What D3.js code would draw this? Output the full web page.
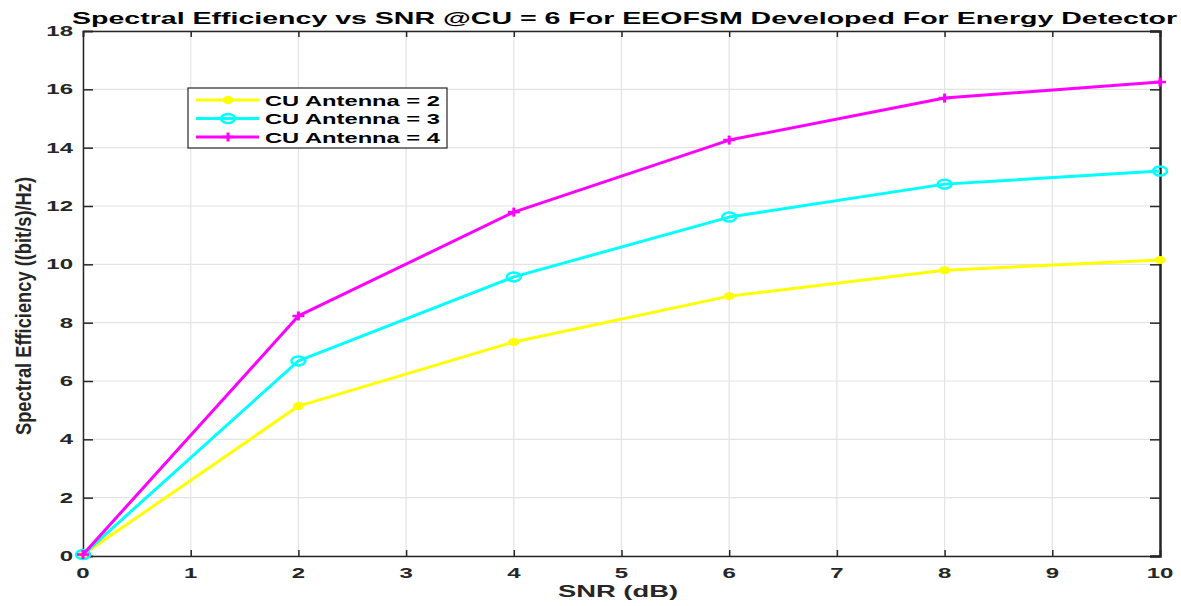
<!DOCTYPE html>
<html>
<head>
<meta charset="utf-8">
<script src="https://cdn.jsdelivr.net/npm/d3@7"></script>
<style>
  body { margin: 0; background: #fff; }
  text { font-family: "Liberation Sans", Arial, sans-serif; font-weight: bold; fill: #262626; }
</style>
</head>
<body>
<div id="chart"></div>
<script>
// data
const snr = [0, 2, 4, 6, 8, 10];
const antenna2 = [0.05, 5.14, 7.34, 8.91, 9.80, 10.15];
const antenna3 = [0.05, 6.69, 9.57, 11.62, 12.75, 13.20];
const antenna4 = [0.05, 8.23, 11.79, 14.26, 15.70, 16.25];
const seriesNames = ["CU Antenna = 2", "CU Antenna = 3", "CU Antenna = 4"];
const xTicks = [0, 1, 2, 3, 4, 5, 6, 7, 8, 9, 10];
const yTicks = [0, 2, 4, 6, 8, 10, 12, 14, 16, 18];

const width = 1181, height = 606;
const margin = {top: 31, right: 21, bottom: 50, left: 83};
const stretch = 1.6; // the picture is stretched horizontally

const series = [
  {name: seriesNames[0], values: antenna2, color: "#ffff00", marker: "dot"},
  {name: seriesNames[1], values: antenna3, color: "#00ffff", marker: "circle"},
  {name: seriesNames[2], values: antenna4, color: "#ff00ff", marker: "plus"}
];

const svg = d3.select("#chart").append("svg")
    .attr("width", width)
    .attr("height", height);

const x = d3.scaleLinear().domain([0, 10]).range([margin.left, width - margin.right]);
const y = d3.scaleLinear().domain([0, 18]).range([height - margin.bottom, margin.top]);

// grid
svg.append("g").selectAll("line").data(xTicks).join("line")
    .attr("x1", d => x(d)).attr("x2", d => x(d))
    .attr("y1", y(0)).attr("y2", y(18))
    .attr("stroke", "#e3e3e3").attr("stroke-width", 1.2);
svg.append("g").selectAll("line").data(yTicks).join("line")
    .attr("x1", x(0)).attr("x2", x(10))
    .attr("y1", d => y(d)).attr("y2", d => y(d))
    .attr("stroke", "#e3e3e3").attr("stroke-width", 1.2);

// axes (ticks inward)
const xAxis = svg.append("g")
    .attr("transform", "translate(0," + y(0) + ")")
    .call(d3.axisBottom(x).tickValues(xTicks).tickSize(-6).tickPadding(0).tickFormat(""));
const xTop = svg.append("g")
    .attr("transform", "translate(0," + y(18) + ")")
    .call(d3.axisTop(x).tickValues(xTicks).tickSize(-6).tickFormat(""));
const yAxis = svg.append("g")
    .attr("transform", "translate(" + x(0) + ",0)")
    .call(d3.axisLeft(y).tickValues(yTicks).tickSize(-10).tickFormat(""));
const yRight = svg.append("g")
    .attr("transform", "translate(" + x(10) + ",0)")
    .call(d3.axisRight(y).tickValues(yTicks).tickSize(-10).tickFormat(""));
[xAxis, xTop, yAxis, yRight].forEach(g => {
  g.selectAll("path, line").attr("stroke", "#262626").attr("stroke-width", 1.5);
});
yRight.select("path").attr("stroke-width", 2.5);

// tick labels, stretched like the picture
svg.append("g").selectAll("text").data(xTicks).join("text")
    .attr("transform", d => "translate(" + x(d) + "," + (y(0) + 22) + ") scale(" + stretch + ",1)")
    .attr("text-anchor", "middle")
    .style("font-size", "15px")
    .text(d => d);
svg.append("g").selectAll("text").data(yTicks).join("text")
    .attr("transform", d => "translate(" + (x(0) - 10) + "," + (y(d) + 5) + ") scale(" + stretch + ",1)")
    .attr("text-anchor", "end")
    .style("font-size", "15px")
    .text(d => d);

// title and axis labels
svg.append("text")
    .attr("transform", "translate(624.5,23.5) scale(" + stretch + ",1)")
    .attr("text-anchor", "middle")
    .attr("textLength", 1105 / stretch)
    .attr("lengthAdjust", "spacingAndGlyphs")
    .style("font-size", "16.5px")
    .style("fill", "#000")
    .text("Spectral Efficiency vs SNR @CU = 6 For EEOFSM Developed For Energy Detector");

svg.append("text")
    .attr("transform", "translate(618,597) scale(" + stretch + ",1)")
    .attr("text-anchor", "middle")
    .attr("textLength", 120 / stretch)
    .attr("lengthAdjust", "spacingAndGlyphs")
    .style("font-size", "16.5px")
    .text("SNR (dB)");

svg.append("text")
    .attr("transform", "translate(31,306) scale(" + stretch + ",1) rotate(-90)")
    .attr("text-anchor", "middle")
    .attr("textLength", 258)
    .attr("lengthAdjust", "spacingAndGlyphs")
    .style("font-size", "14px")
    .text("Spectral Efficiency ((bit/s)/Hz)");

// lines
const line = d3.line()
    .x((d, i) => x(snr[i]))
    .y(d => y(d));

function drawMarker(g, type, color) {
  if (type == "dot") {
    g.append("ellipse").attr("rx", 5.5).attr("ry", 4).attr("fill", color);
  } else if (type == "circle") {
    g.append("ellipse").attr("rx", 7).attr("ry", 4.5)
        .attr("fill", "none").attr("stroke", color).attr("stroke-width", 2.5);
  } else {
    g.append("line").attr("x1", -6).attr("x2", 6).attr("stroke", color).attr("stroke-width", 2.5);
    g.append("line").attr("y1", -4.5).attr("y2", 4.5).attr("stroke", color).attr("stroke-width", 3);
  }
}

series.forEach(s => {
  svg.append("path")
      .datum(s.values)
      .attr("fill", "none")
      .attr("stroke", s.color)
      .attr("stroke-width", 3)
      .attr("stroke-linejoin", "round")
      .attr("d", line);
  s.values.forEach((v, i) => {
    const g = svg.append("g").attr("transform", "translate(" + x(snr[i]) + "," + y(v) + ")");
    drawMarker(g, s.marker, s.color);
  });
});

// legend
const legend = svg.append("g").attr("transform", "translate(188,88)");
legend.append("rect")
    .attr("width", 259).attr("height", 60)
    .attr("fill", "#fff").attr("stroke", "#262626").attr("stroke-width", 1.2);
series.forEach((s, i) => {
  const ly = 12 + i * 18.5;
  legend.append("line")
      .attr("x1", 8).attr("x2", 71).attr("y1", ly).attr("y2", ly)
      .attr("stroke", s.color).attr("stroke-width", 3);
  const g = legend.append("g").attr("transform", "translate(40," + ly + ")");
  drawMarker(g, s.marker, s.color);
  legend.append("text")
      .attr("transform", "translate(77," + (ly + 5.5) + ") scale(" + stretch + ",1)")
      .attr("textLength", 175 / stretch)
      .attr("lengthAdjust", "spacingAndGlyphs")
      .style("font-size", "15px")
      .style("fill", "#000")
      .text(s.name);
});
</script>
</body>
</html>
